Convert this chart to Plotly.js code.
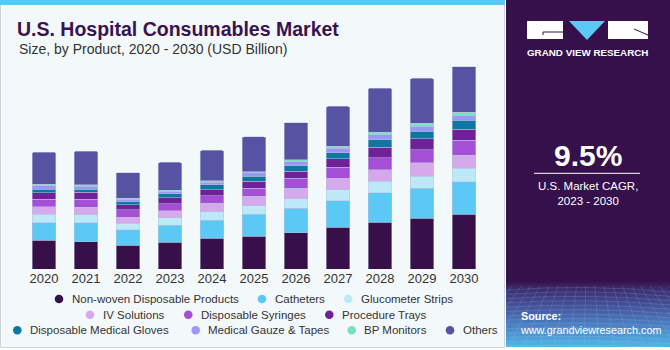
<!DOCTYPE html>
<html>
<head>
<meta charset="utf-8">
<script src="https://cdn.plot.ly/plotly-3.0.1.min.js"></script>
<style>html,body{margin:0;padding:0;background:#fff;}#chart{width:670px;height:350px;}</style>
</head>
<body>
<div id="chart"></div>
<script>
// ---- data (USD Billion) ----
const years = ['2020','2021','2022','2023','2024','2025','2026','2027','2028','2029','2030'];
const nonwoven   = [22.6, 21.3, 18.5, 20.9, 24.2, 25.5, 28.4, 32.8, 36.4, 39.5, 42.6];
const catheters  = [13.5, 14.8, 12.2, 13.3, 13.8, 17.2, 19.0, 20.5, 23.0, 23.4, 25.5];
const glucometer = [6.8, 6.2, 5.2, 5.7, 6.7, 6.8, 7.6, 8.4, 9.1, 9.4, 10.4];
const ivSolutions= [5.7, 6.0, 4.5, 5.5, 6.6, 7.3, 8.0, 9.1, 9.1, 10.5, 10.2];
const syringes   = [6.0, 6.2, 5.7, 5.5, 5.9, 6.2, 7.8, 8.6, 9.4, 10.4, 11.7];
const trays      = [4.9, 5.5, 3.9, 4.9, 4.7, 5.5, 5.5, 6.6, 8.0, 8.6, 8.9];
const gloves     = [2.9, 2.3, 2.6, 2.9, 3.9, 3.9, 4.5, 4.9, 6.0, 5.7, 6.7];
const gauze      = [2.6, 2.3, 1.8, 1.6, 1.9, 2.7, 3.1, 3.4, 3.9, 3.9, 3.7];
const bpMonitors = [1.0, 1.3, 1.0, 1.3, 1.2, 1.0, 1.3, 1.6, 1.8, 2.3, 2.6];
const others     = [25.2, 26.0, 19.8, 21.6, 23.7, 27.1, 29.1, 31.0, 34.4, 35.1, 35.7];
const seriesNames = ['Non-woven Disposable Products','Catheters','Glucometer Strips','IV Solutions',
  'Disposable Syringes','Procedure Trays','Disposable Medical Gloves','Medical Gauze & Tapes','BP Monitors','Others'];
const labelYear = '2022';
const cagrText = '9.5%';

// ---- styling ----
const seriesData = [nonwoven, catheters, glucometer, ivSolutions, syringes, trays, gloves, gauze, bpMonitors, others];
const colors = ['#37104a','#5bc8f5','#bde8f8','#d5a9ec','#a54fd6','#6f2298','#0d77a1','#9b97f7','#79dfc5','#5654a2'];
const FONT = 'Liberation Sans, Arial, sans-serif';

const W = 670, H = 350, L = 23, R = 185, T = 60, B = 81;
const PW = W - L - R, PH = H - T - B;
const px = x => (x - L) / PW;
const py = y => (T + PH - y) / PH;
const yMax = PH * 75.2 / 96.3;

const traces = seriesData.map((vals, i) => ({
  type: 'bar', x: years, y: vals, name: seriesNames[i], showlegend: false,
  marker: {color: colors[i], line: {color: 'rgba(185,195,220,0.85)', width: 0.6}},
  hoverinfo: 'skip'
}));

const idx = years.indexOf(labelYear);
const labelTotal = seriesData.reduce((s, arr) => s + arr[idx], 0);

// right panel as svg image (gradient + mesh)
let mesh = '';
for (let k = 0; k < 14; k++) {
  const yy = 290 + k * 4.3;
  mesh += `<path d='M0 ${yy} Q82 ${yy - 6 + k*0.3} 164 ${yy + 2}' stroke='#b8d8ff' stroke-opacity='0.28' fill='none' stroke-width='0.6'/>`;
}
for (let k = 0; k < 22; k++) {
  const xx = k * 8;
  mesh += `<path d='M${xx + (xx-82)*0.15} 286 L${xx + (xx-82)*0.9} 347' stroke='#b8d8ff' stroke-opacity='0.25' fill='none' stroke-width='0.6'/>`;
}
const svg = `<svg xmlns='http://www.w3.org/2000/svg' width='164' height='347' viewBox='0 0 164 347' preserveAspectRatio='none'>
<defs><linearGradient id='g' x1='0' y1='0' x2='0' y2='1'>
<stop offset='0' stop-color='#36104a'/><stop offset='0.81' stop-color='#36104a'/>
<stop offset='0.83' stop-color='#3c2a6c'/><stop offset='0.9' stop-color='#4860a8'/>
<stop offset='1' stop-color='#4fb6e8'/></linearGradient></defs>
<rect width='164' height='347' fill='url(#g)'/>${mesh}</svg>`;
const svgUri = 'data:image/svg+xml;charset=utf-8,' + encodeURIComponent(svg);

const shapes = [
  {type:'rect', layer:'below', xref:'paper', yref:'paper', x0:px(0.5), x1:px(504.5), y0:py(347.5), y1:py(0),
   fillcolor:'#f3f8fb', line:{color:'#cfd4da', width:1}},
  {type:'rect', layer:'below', xref:'paper', yref:'paper', x0:px(0), x1:px(505), y0:py(5), y1:py(0),
   fillcolor:'#5bc8f5', line:{width:0}},
  // logo
  {type:'rect', layer:'above', xref:'paper', yref:'paper', x0:px(527), x1:px(563), y0:py(39), y1:py(21),
   fillcolor:'#ffffff', line:{width:0}},
  {type:'path', layer:'above', xref:'paper', yref:'paper',
   path:`M ${px(543)} ${py(32)} L ${px(563)} ${py(32)} M ${px(543)} ${py(32)} L ${px(543)} ${py(35)}`,
   line:{color:'#36104a', width:1}},
  {type:'path', layer:'above', xref:'paper', yref:'paper',
   path:`M ${px(569)} ${py(21)} L ${px(605)} ${py(21)} L ${px(587)} ${py(40)} Z`,
   fillcolor:'#5bc8f5', line:{width:0}},
  {type:'rect', layer:'above', xref:'paper', yref:'paper', x0:px(608), x1:px(648), y0:py(39), y1:py(21),
   fillcolor:'#ffffff', line:{width:0}},
  {type:'path', layer:'above', xref:'paper', yref:'paper',
   path:`M ${px(634)} ${py(29)} L ${px(648)} ${py(35)}`, line:{color:'#36104a', width:1}},
  // divider line in panel
  {type:'line', layer:'above', xref:'paper', yref:'paper', x0:px(534), x1:px(640), y0:py(173.3), y1:py(173.3),
   line:{color:'#ffffff', width:1}}
];

const annotations = [
  {xref:'paper', yref:'paper', x:px(17), y:py(49), xanchor:'left', yanchor:'middle', showarrow:false,
   text:'Size, by Product, 2020 - 2030 (USD Billion)', font:{family:FONT, size:14, color:'#333333'}},
  {xref:'x', yref:'y', x:labelYear, y:labelTotal, yanchor:'bottom', yshift:5, showarrow:false,
   text:'$' + labelTotal.toFixed(1) + 'B', font:{family:FONT, size:14, color:'#333333'}},
  {xref:'paper', yref:'paper', x:px(587.5), y:py(52), xanchor:'center', yanchor:'middle', showarrow:false,
   text:'<b>GRAND VIEW RESEARCH</b>', font:{family:FONT, size:9.8, color:'#ffffff'}},
  {xref:'paper', yref:'paper', x:px(587.5), y:py(155), xanchor:'center', yanchor:'middle', showarrow:false,
   text:'<b>' + cagrText + '</b>', font:{family:FONT, size:30, color:'#ffffff'}},
  {xref:'paper', yref:'paper', x:px(587.5), y:py(193), xanchor:'center', yanchor:'middle', showarrow:false,
   text:'U.S. Market CAGR,<br>2023 - 2030', font:{family:FONT, size:11.5, color:'#ffffff'}},
  {xref:'paper', yref:'paper', x:px(518), y:py(322.5), xanchor:'left', yanchor:'middle', showarrow:false, align:'left',
   text:'<b>Source:</b><br>www.grandviewresearch.com', font:{family:FONT, size:10.8, color:'#ffffff'}}
];

// legend: three centred rows, circle symbol + label (layout positions in pixels)
const legendRows = [[0,1,2],[3,4,5],[6,7,8,9]];
const legendRowY = [299, 314.7, 330.3];
const legendItemX = {0:59, 1:262, 2:348.3, 3:90, 4:188.3, 5:329.3, 6:17.3, 7:195.7, 8:351.7, 9:450};
legendRows.forEach((row, r) => {
  row.forEach(i => {
    const cx = legendItemX[i], cy = legendRowY[r], rad = 4.3;
    shapes.push({type:'circle', layer:'above', xref:'paper', yref:'paper',
      x0:px(cx - rad), x1:px(cx + rad), y0:py(cy + rad), y1:py(cy - rad),
      fillcolor:colors[i], line:{width:0}});
    annotations.push({xref:'paper', yref:'paper', x:px(cx + 10.5), y:py(cy), xanchor:'left', yanchor:'middle',
      showarrow:false, text:seriesNames[i], font:{family:FONT, size:11.5, color:'#333333'}});
  });
});

const layout = {
  width: W, height: H,
  margin: {l:L, r:R, t:T, b:B, pad:0},
  paper_bgcolor:'#ffffff', plot_bgcolor:'rgba(0,0,0,0)',
  font:{family:FONT, color:'#333333'},
  title:{text:'<b>U.S. Hospital Consumables Market</b>', x:17/W, xref:'container', xanchor:'left',
         y:1 - 29/H, yref:'container', yanchor:'middle', font:{family:FONT, size:19.5, color:'#3a1250'}},
  barmode:'stack', bargap:0.43, barcornerradius:2,
  xaxis:{type:'category', categoryorder:'array', categoryarray:years, range:[-0.5, years.length - 0.5],
         showgrid:false, zeroline:false, showline:false, ticks:'',
         tickfont:{family:FONT, size:13, color:'#333333'}, fixedrange:true},
  yaxis:{visible:false, range:[0, yMax], fixedrange:true},
  showlegend:false,
  shapes: shapes,
  annotations: annotations,
  images: [{source: svgUri, xref:'paper', yref:'paper', x:px(506), y:py(0), sizex:164/PW, sizey:347/PH,
            xanchor:'left', yanchor:'top', sizing:'stretch', layer:'below'}]
};

Plotly.newPlot('chart', traces, layout, {displayModeBar:false, staticPlot:true});
</script>
</body>
</html>
